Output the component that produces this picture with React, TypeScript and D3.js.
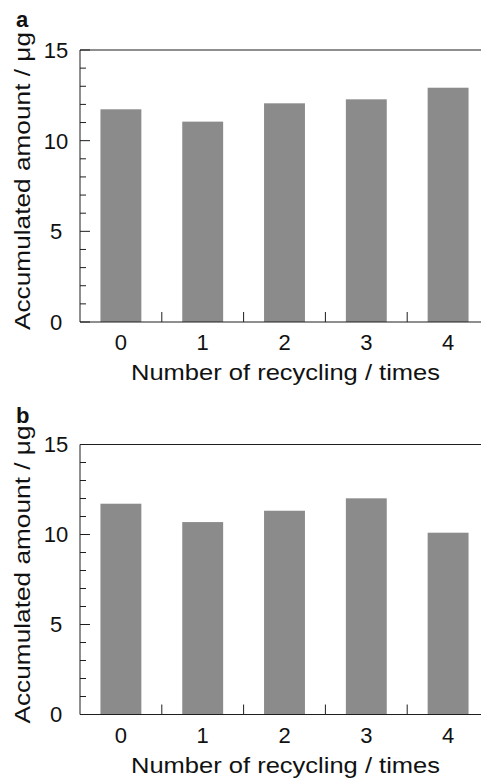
import React, { useEffect, useRef } from 'react';
import * as d3 from 'd3';

// number of recycling
const categories = ['0', '1', '2', '3', '4'];
// accumulated amount (ug)
const valuesA = [11.73, 11.05, 12.06, 12.28, 12.92];
const valuesB = [11.71, 10.69, 11.32, 12.01, 10.1];
const yMajorTicks = [0, 5, 10, 15];
const yMinorTicks = [1, 2, 3, 4, 6, 7, 8, 9, 11, 12, 13, 14];

const FONT = "'Liberation Sans', Arial, Helvetica, sans-serif";

function drawPanel(svg, values, letter, top, bottom, letterY) {
  const left = 80;
  const right = 489;
  const ink = '#1e1e1e';

  const x = d3.scaleBand()
    .domain(categories)
    .range([left, right])
    .paddingInner(0.5)
    .paddingOuter(0.25);
  const y = d3.scaleLinear().domain([0, 15]).range([bottom, top]);
  const step = x.step();

  const g = svg.append('g');

  // bars
  g.selectAll('rect.bar')
    .data(values)
    .enter()
    .append('rect')
    .attr('class', 'bar')
    .attr('x', (d, i) => x(categories[i]))
    .attr('width', x.bandwidth())
    .attr('y', d => y(d))
    .attr('height', d => y(0) - y(d))
    .attr('fill', '#8b8b8b');

  // frame: left axis, bottom axis, top line
  g.append('line')
    .attr('x1', left).attr('x2', left)
    .attr('y1', y(15)).attr('y2', y(0))
    .attr('stroke', ink).attr('stroke-width', 1);
  g.append('line')
    .attr('x1', left).attr('x2', right)
    .attr('y1', y(0)).attr('y2', y(0))
    .attr('stroke', ink).attr('stroke-width', 1);
  g.append('line')
    .attr('x1', left).attr('x2', right)
    .attr('y1', y(15)).attr('y2', y(15))
    .attr('stroke', ink).attr('stroke-width', 1);

  // y ticks pointing inward
  g.selectAll('line.ymaj')
    .data(yMajorTicks)
    .enter()
    .append('line')
    .attr('x1', left).attr('x2', left + 10)
    .attr('y1', d => y(d)).attr('y2', d => y(d))
    .attr('stroke', ink);
  g.selectAll('line.ymin')
    .data(yMinorTicks)
    .enter()
    .append('line')
    .attr('x1', left).attr('x2', left + 6)
    .attr('y1', d => y(d)).attr('y2', d => y(d))
    .attr('stroke', ink);

  g.selectAll('text.ylab')
    .data(yMajorTicks)
    .enter()
    .append('text')
    .attr('x', 56)
    .attr('y', d => y(d))
    .attr('dy', '0.36em')
    .attr('text-anchor', 'middle')
    .attr('font-size', 22)
    .attr('font-family', FONT)
    .attr('fill', '#111')
    .text(d => d);

  // x ticks between bars, pointing up
  g.selectAll('line.xt')
    .data(categories.slice(0, -1))
    .enter()
    .append('line')
    .attr('x1', d => x(d) + x.bandwidth() / 2 + step / 2)
    .attr('x2', d => x(d) + x.bandwidth() / 2 + step / 2)
    .attr('y1', y(0)).attr('y2', y(0) - 10)
    .attr('stroke', ink);

  g.selectAll('text.xlab')
    .data(categories)
    .enter()
    .append('text')
    .attr('x', d => x(d) + x.bandwidth() / 2)
    .attr('y', y(0) + 28)
    .attr('text-anchor', 'middle')
    .attr('font-size', 22)
    .attr('font-family', FONT)
    .attr('fill', '#111')
    .text(d => d);

  // axis titles
  g.append('text')
    .attr('x', (left + right) / 2 + 1)
    .attr('y', y(0) + 58)
    .attr('text-anchor', 'middle')
    .attr('font-size', 22)
    .attr('font-family', FONT)
    .attr('fill', '#111')
    .attr('textLength', 309)
    .attr('lengthAdjust', 'spacingAndGlyphs')
    .text('Number of recycling / times');

  g.append('text')
    .attr('transform', 'translate(30,' + ((top + bottom) / 2 - 5) + ') rotate(-90)')
    .attr('text-anchor', 'middle')
    .attr('font-size', 22)
    .attr('font-family', FONT)
    .attr('fill', '#111')
    .attr('textLength', 298)
    .attr('lengthAdjust', 'spacingAndGlyphs')
    .text('Accumulated amount / \u03bcg');

  // panel letter
  g.append('text')
    .attr('x', 16)
    .attr('y', letterY)
    .attr('font-size', 22)
    .attr('font-weight', 'bold')
    .attr('font-family', FONT)
    .attr('fill', '#111')
    .text(letter);
}

function App() {
  const ref = useRef(null);

  useEffect(() => {
    const svg = d3.select(ref.current);
    svg.selectAll('*').remove();
    drawPanel(svg, valuesA, 'a', 50, 322, 27);
    drawPanel(svg, valuesB, 'b', 444.5, 714.5, 423);
  }, []);

  return (
    <svg
      ref={ref}
      width={481}
      height={778}
      style={{ position: 'absolute', left: 0, top: 0, background: '#fff' }}
    />
  );
}

export default App;
